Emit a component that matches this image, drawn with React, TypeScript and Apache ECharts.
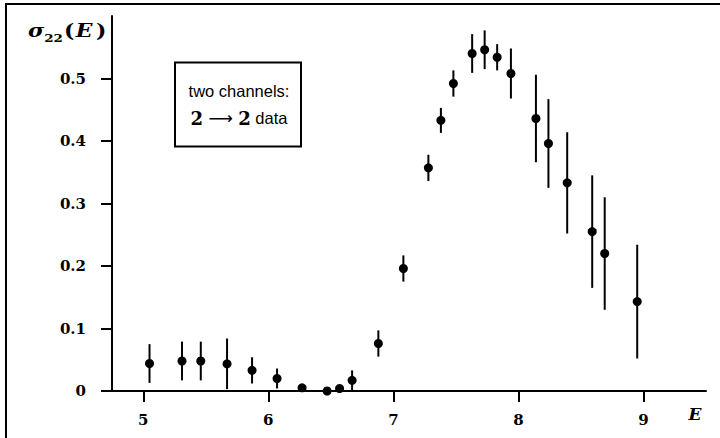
import React, { useEffect, useRef } from "react";
import * as echarts from "echarts";

const energies = [5.05, 5.31, 5.46, 5.67, 5.87, 6.07, 6.27, 6.47, 6.57, 6.67, 6.88, 7.08, 7.28, 7.38, 7.48, 7.63, 7.73, 7.83, 7.94, 8.14, 8.24, 8.39, 8.59, 8.69, 8.95];
const sigmaValues = [0.044, 0.048, 0.048, 0.0435, 0.033, 0.02, 0.005, 0.0, 0.004, 0.017, 0.076, 0.196, 0.357, 0.433, 0.492, 0.54, 0.546, 0.534, 0.508, 0.436, 0.396, 0.333, 0.255, 0.22, 0.143];
const sigmaErrors = [0.031, 0.031, 0.031, 0.0405, 0.021, 0.016, 0.003, 0.0, 0.0, 0.016, 0.021, 0.021, 0.021, 0.02, 0.021, 0.031, 0.031, 0.021, 0.04, 0.07, 0.071, 0.081, 0.09, 0.09, 0.091];
const xTicks = [5, 6, 7, 8, 9];
const yTicks = [0, 0.1, 0.2, 0.3, 0.4, 0.5];

const SERIF = '"DejaVu Serif", serif';
const SANS = '"Liberation Sans", sans-serif';

export default function App() {
  const ref = useRef<HTMLDivElement>(null);
  useEffect(() => {
    if (!ref.current) return;
    document.body.style.margin = "0";
    const chart = echarts.init(ref.current, null, { renderer: "svg" });
    const points = energies.map((e, i) => [e, sigmaValues[i]]);
    const bars = energies.map((e, i) => [e, sigmaValues[i], sigmaErrors[i]]);
    const axisText = { fontFamily: SERIF, fontWeight: "bold" as const, fontSize: 15, color: "#000" };
    chart.setOption({
      animation: false,
      grid: { left: 112, right: 14, top: 16, bottom: 47 },
      xAxis: {
        type: "value",
        min: 4.75,
        max: 9.5,
        axisLine: { show: true, lineStyle: { color: "#000", width: 2 } },
        axisTick: { show: true, customValues: xTicks, length: 11, lineStyle: { color: "#000", width: 2 } },
        axisLabel: { ...axisText, customValues: xTicks, margin: 21, formatter: (v: number) => String(v) },
        splitLine: { show: false },
      },
      yAxis: {
        type: "value",
        min: 0,
        max: 0.6,
        axisLine: { show: true, onZero: false, lineStyle: { color: "#000", width: 2 } },
        axisTick: { show: true, customValues: yTicks, length: 11, lineStyle: { color: "#000", width: 2 } },
        axisLabel: { ...axisText, customValues: yTicks, margin: 26, formatter: (v: number) => (v === 0 ? "0" : v.toFixed(1)) },
        splitLine: { show: false },
      },
      series: [
        {
          type: "custom",
          data: bars,
          renderItem: (params: any, api: any) => {
            const x = api.value(0);
            const y = api.value(1);
            const e = api.value(2);
            const top = api.coord([x, y + e]);
            const bot = api.coord([x, Math.max(0, y - e)]);
            return {
              type: "line",
              shape: { x1: top[0], y1: top[1], x2: bot[0], y2: bot[1] },
              style: { stroke: "#000", lineWidth: 2 },
            };
          },
          z: 2,
        },
        {
          type: "scatter",
          data: points,
          symbol: "circle",
          symbolSize: 9,
          itemStyle: { color: "#000", opacity: 1 },
          z: 3,
        },
      ],
      graphic: [
        { type: "line", shape: { x1: 5, y1: 4, x2: 720, y2: 4 }, style: { stroke: "#000", lineWidth: 2 }, silent: true },
        { type: "line", shape: { x1: 6, y1: 3, x2: 6, y2: 438 }, style: { stroke: "#000", lineWidth: 2 }, silent: true },
        { type: "rect", shape: { x: 175, y: 62.5, width: 126, height: 84 }, style: { fill: "#fff", stroke: "#000", lineWidth: 2 }, z: 10 },
        { type: "text", x: 239, y: 91, z: 11, style: { text: "two channels:", font: `16.5px ${SANS}`, fill: "#000", align: "center", verticalAlign: "middle" } },
        {
          type: "text", x: 239, y: 118, z: 11,
          style: {
            text: "{n|2}{a| ⟶ }{n|2}{s| data}",
            align: "center", verticalAlign: "middle",
            rich: {
              n: { font: `bold 18px ${SERIF}`, fill: "#000" },
              a: { font: `17px "DejaVu Sans"`, fill: "#000" },
              s: { font: `16.5px ${SANS}`, fill: "#000" },
            },
          },
        },
        {
          type: "text", x: 28, y: 31, scaleX: 1.22,
          style: {
            text: "{s|σ}{b|22}{p|(}{e|E}{p|)}",
            verticalAlign: "middle",
            rich: {
              s: { font: `bold italic 18px ${SERIF}`, fill: "#000", lineHeight: 24, verticalAlign: "middle" },
              b: { font: `bold 11px ${SERIF}`, fill: "#000", lineHeight: 11, verticalAlign: "bottom" },
              p: { font: `bold 18px ${SERIF}`, fill: "#000", lineHeight: 24, verticalAlign: "middle", padding: [0, 1, 0, 1] },
              e: { font: `bold italic 18px ${SERIF}`, fill: "#000", lineHeight: 24, verticalAlign: "middle", padding: [0, 2, 0, 0] },
            },
          },
        },
        { type: "text", x: 695, y: 414, style: { text: "E", font: `bold italic 17px ${SERIF}`, fill: "#000", align: "center", verticalAlign: "middle" } },
      ],
    });
    return () => chart.dispose();
  }, []);
  return <div ref={ref} style={{ width: 720, height: 438 }} />;
}
